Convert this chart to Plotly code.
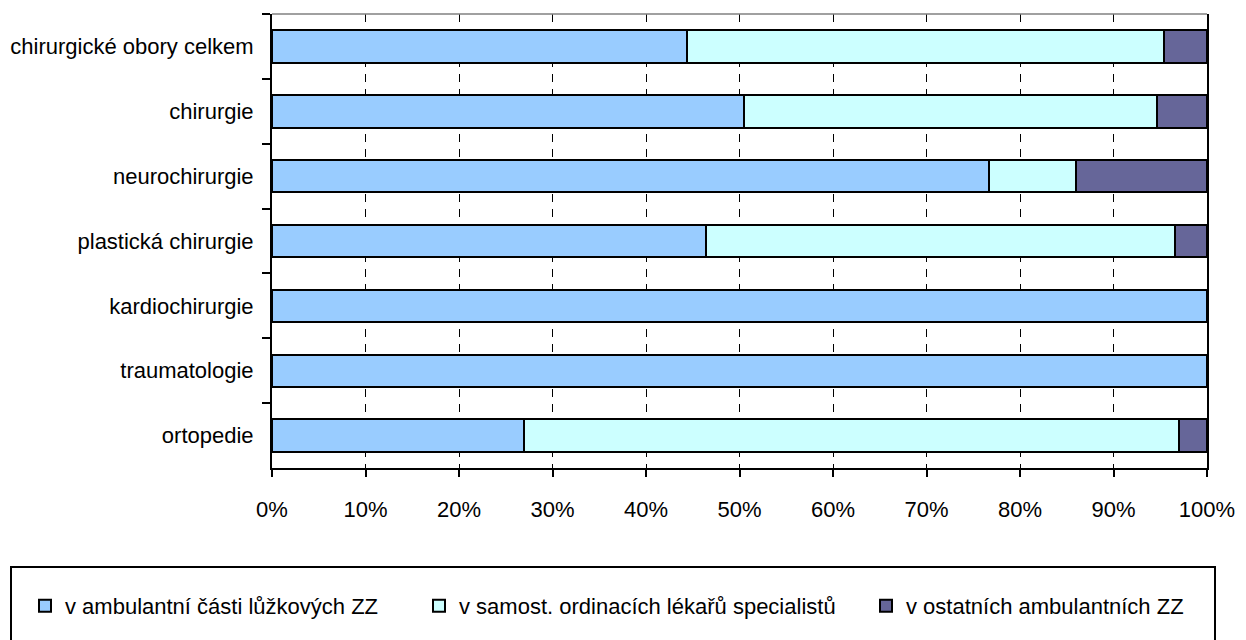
import plotly.graph_objects as go

categories = ["chirurgické obory celkem", "chirurgie", "neurochirurgie",
              "plastická chirurgie", "kardiochirurgie", "traumatologie", "ortopedie"]
series_names = ["v ambulantní části lůžkových ZZ",
                "v samost. ordinacích lékařů specialistů",
                "v ostatních ambulantních ZZ"]
ambulantni = [44.4, 50.5, 76.7, 46.4, 100.0, 100.0, 26.9]
samost = [51.0, 44.1, 9.3, 50.2, 0.0, 0.0, 70.1]
ostatni = [4.6, 5.4, 14.0, 3.4, 0.0, 0.0, 3.0]
x_ticks = [0, 10, 20, 30, 40, 50, 60, 70, 80, 90, 100]
x_ticklabels = [f"{v}%" for v in x_ticks]

colors = ["#99CCFF", "#CCFFFF", "#666699"]
FONT = "Liberation Sans, Arial, sans-serif"
FS = 22

OFF = 8  # default body margin of the page
W, H = 1246 - OFF, 640 - OFF
L, R, T, B = 272 - OFF, 39, 14 - OFF, 172
pw = W - L - R
ph = H - T - B


def px_x(p):
    return (p - OFF - L) / pw


def px_y(p):
    return (H - B - (p - OFF)) / ph


fig = go.Figure()
legend_ids = ["legend", "legend2", "legend3"]
for name, vals, col, lg in zip(series_names, [ambulantni, samost, ostatni], colors, legend_ids):
    fig.add_trace(go.Bar(
        y=categories, x=vals, name=name, orientation="h",
        marker=dict(color=col, line=dict(color="black", width=2)),
        legend=lg, showlegend=True,
    ))

legend_common = dict(font=dict(family=FONT, size=FS, color="black"),
                     bgcolor="rgba(0,0,0,0)", borderwidth=0,
                     xanchor="left", yanchor="middle", orientation="h", visible=True)
text_starts = [65, 459, 906]
fig.update_layout(
    showlegend=True,
    legend=dict(x=px_x(text_starts[0] - 40), y=px_y(606), **legend_common),
    legend2=dict(x=px_x(text_starts[1] - 40), y=px_y(606), **legend_common),
    legend3=dict(x=px_x(text_starts[2] - 40), y=px_y(606), **legend_common),
)

fig.update_layout(
    width=W, height=H,
    margin=dict(l=L, r=R, t=T, b=B, autoexpand=False),
    barmode="stack", bargap=0.5,
    plot_bgcolor="white", paper_bgcolor="white",
    font=dict(family=FONT, size=FS, color="black"),
    xaxis=dict(range=[0, 100], tickvals=x_ticks, ticktext=x_ticklabels,
               showgrid=True, gridcolor="black", gridwidth=1, griddash="8px,7px",
               showline=True, linecolor="black", linewidth=2,
               ticks="outside", ticklen=7, tickwidth=2, tickcolor="black",
               ticklabelstandoff=14, zeroline=False, fixedrange=True),
    yaxis=dict(autorange="reversed", type="category",
               showline=True, linecolor="black", linewidth=2, mirror=True,
               ticks="outside", ticklen=8, tickwidth=2, tickcolor="black",
               tickson="boundaries", ticklabelstandoff=12, showgrid=False,
               fixedrange=True),
    shapes=[
        dict(type="line", xref="paper", yref="paper", x0=0, x1=1, y0=1, y1=1,
             line=dict(color="#808080", width=1.5)),
        dict(type="rect", xref="paper", yref="paper",
             x0=px_x(11), x1=px_x(1215), y0=px_y(567), y1=px_y(700),
             line=dict(color="black", width=2), fillcolor="rgba(0,0,0,0)", layer="above"),
    ],
)

fig.write_html("out.html")
